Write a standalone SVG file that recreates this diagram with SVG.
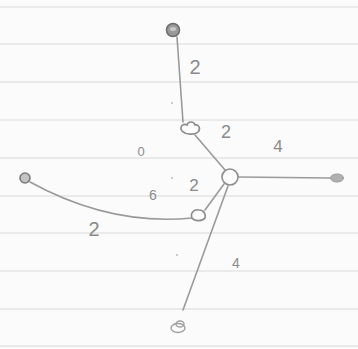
<svg xmlns="http://www.w3.org/2000/svg" width="358" height="349" viewBox="0 0 358 349">
<style>
.rule{stroke:#d9d9d9;stroke-width:1.2}
.edge{fill:none;stroke:#9a9a9a;stroke-width:1.6;stroke-linecap:round}
.lbl{font-family:"Liberation Sans",Arial,sans-serif;fill:#8a8a8a;text-anchor:middle;dominant-baseline:central}
.open{fill:#fdfdfd;stroke:#8c8c8c;stroke-width:1.6}
.speck{fill:#b5b5b5}
</style>
<rect width="358" height="349" fill="#fbfbfb"/>
<g id="ruling">
<line class="rule" x1="0" y1="7" x2="358" y2="7"/>
<line class="rule" x1="0" y1="44" x2="358" y2="44"/>
<line class="rule" x1="0" y1="82" x2="358" y2="82"/>
<line class="rule" x1="0" y1="120" x2="358" y2="120"/>
<line class="rule" x1="0" y1="158" x2="358" y2="158"/>
<line class="rule" x1="0" y1="196" x2="358" y2="196"/>
<line class="rule" x1="0" y1="233" x2="358" y2="233"/>
<line class="rule" x1="0" y1="271" x2="358" y2="271"/>
<line class="rule" x1="0" y1="309" x2="358" y2="309"/>
<line class="rule" x1="0" y1="346" x2="358" y2="346"/>
</g>
<g id="connectors">
<path class="edge" d="M177,37 Q180,80 183,122"/>
<path class="edge" d="M195,135 L225,170"/>
<path class="edge" d="M238,177 L330,178"/>
<path class="edge" d="M224,184 L205,210"/>
<path class="edge" d="M228,186 L183,310"/>
<path class="edge" d="M30,182 Q110,226 192,218"/>
</g>
<g id="node-top"><circle cx="173" cy="30" r="6.5" fill="#9a9a9a" stroke="#6e6e6e" stroke-width="1.6"/><ellipse cx="173" cy="29" rx="3" ry="2" fill="#c8c8c8"/></g>
<g id="node-cloud"><path class="open" d="M182,131 C179,127 183,123 187,125 C188,121 194,121 195,125 C199,124 201,129 198,132 C195,135 186,135 182,131 Z"/></g>
<g id="node-center"><circle class="open" cx="230" cy="177" r="8"/></g>
<g id="node-right"><ellipse cx="337" cy="178" rx="6.5" ry="4" fill="#b0b0b0" stroke="#9a9a9a" stroke-width="1"/></g>
<g id="node-left"><circle cx="25" cy="178" r="5" fill="#c4c4c4" stroke="#7a7a7a" stroke-width="1.6"/></g>
<g id="node-lower"><path class="open" d="M192,218 C190,213 194,209 199,210 C204,210 206,214 205,218 C203,221 195,222 192,218 Z"/></g>
<g id="node-bottom"><ellipse cx="178" cy="328" rx="7" ry="4.5" fill="none" stroke="#a0a0a0" stroke-width="1.4"/><ellipse cx="180" cy="324" rx="4" ry="3" fill="none" stroke="#a0a0a0" stroke-width="1.4"/></g>
<g id="labels">
<text class="lbl" x="195" y="67" font-size="20">2</text>
<text class="lbl" x="226" y="132" font-size="18">2</text>
<text class="lbl" x="278" y="146" font-size="17">4</text>
<text class="lbl" x="141" y="151" font-size="13">0</text>
<text class="lbl" x="153" y="195" font-size="14">6</text>
<text class="lbl" x="194" y="185" font-size="17">2</text>
<text class="lbl" x="94" y="229" font-size="20">2</text>
<text class="lbl" x="236" y="263" font-size="14">4</text>
</g>
<g id="specks">
<circle class="speck" cx="172" cy="103" r="0.9"/>
<circle class="speck" cx="172" cy="178" r="0.9"/>
<circle class="speck" cx="177" cy="255" r="0.9"/>
</g>
</svg>
